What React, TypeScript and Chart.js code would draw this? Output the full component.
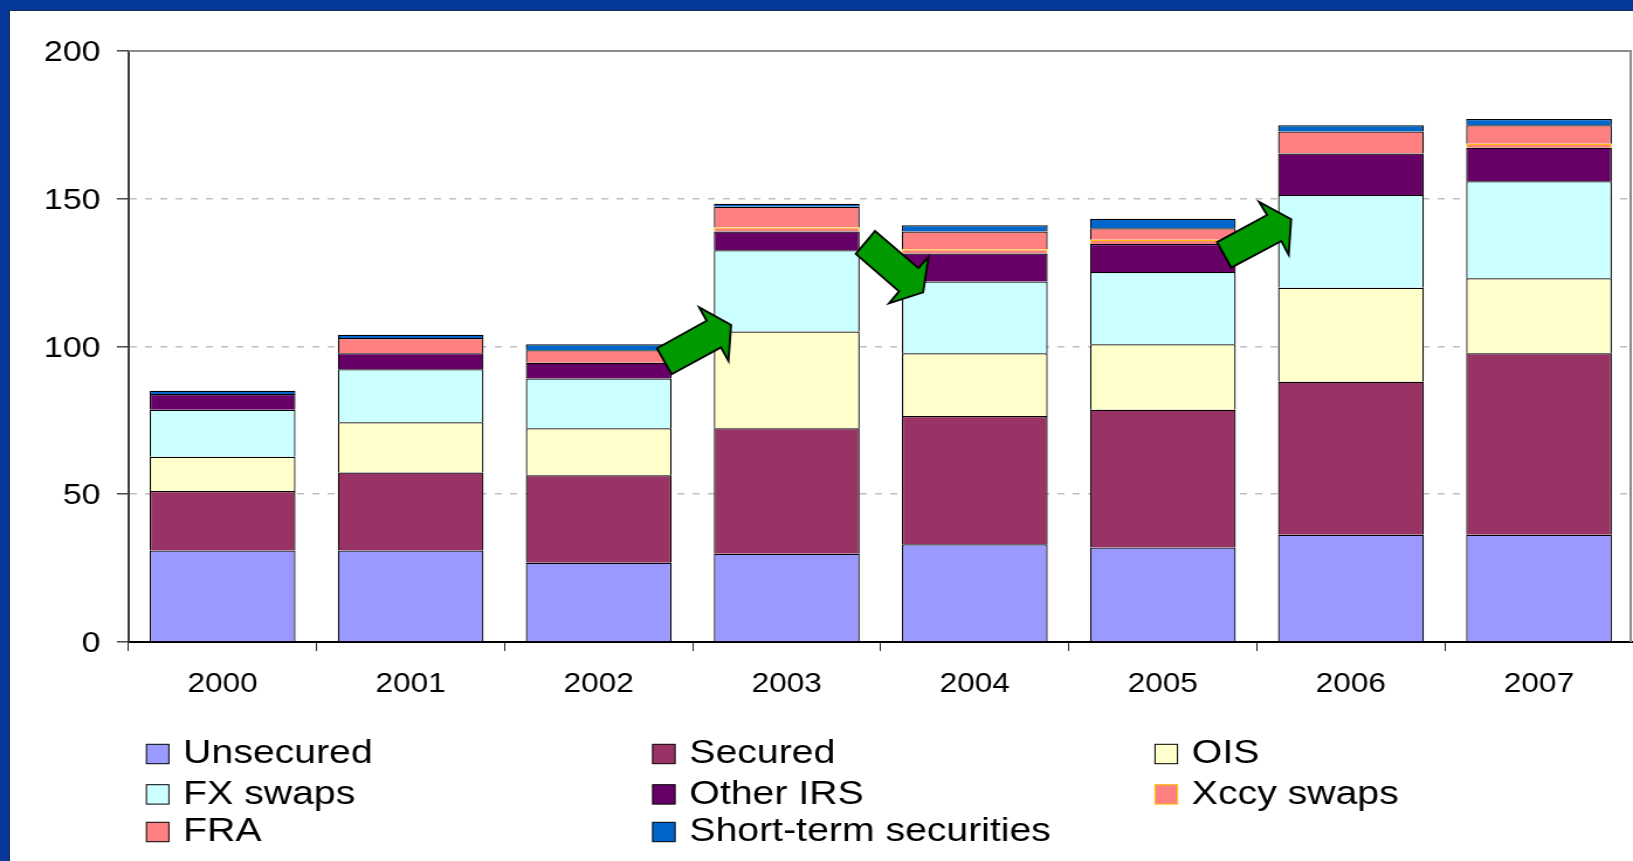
import React, { useEffect, useRef } from "react";
import { Chart, registerables } from "chart.js";

Chart.register(...registerables);

const years = ["2000", "2001", "2002", "2003", "2004", "2005", "2006", "2007"];
const yTicks = [0, 50, 100, 150, 200];

const unsecured = [31, 31, 26.8, 29.9, 33.1, 32, 36.3, 36.3];
const secured = [20.1, 26.4, 29.6, 42.4, 43.4, 46.6, 51.8, 61.4];
const ois = [11.6, 17, 15.9, 32.8, 21.2, 22.2, 31.8, 25.4];
const fxSwaps = [15.9, 17.9, 16.9, 27.5, 24.3, 24.4, 31.4, 32.8];
const otherIrs = [5.3, 5.4, 5.3, 6.3, 9.5, 9.5, 14, 11.4];
const xccySwaps = [0, 0, 0, 1.4, 1.4, 1.4, 0, 1.3];
const fra = [0, 5.2, 4.2, 7, 6, 3.9, 7.5, 6.3];
const shortTerm = [1.1, 1.1, 2.1, 1, 2.1, 3.2, 2.1, 2.1];

const seriesLabels = ["Unsecured", "Secured", "OIS", "FX swaps", "Other IRS", "Xccy swaps", "FRA", "Short-term securities"];
const seriesValues = [unsecured, secured, ois, fxSwaps, otherIrs, xccySwaps, fra, shortTerm];
const seriesFill = ["#9999FF", "#993366", "#FFFFCC", "#CCFFFF", "#660066", "#FF8080", "#FF8080", "#0066CC"];
const seriesBorder = ["#000000", "#000000", "#000000", "#000000", "#000000", "#FFC000", "#000000", "#000000"];

// Block arrows as [category position, value] pairs
const arrowUp2003 = [[2.31, 99.4], [2.388, 90.6], [2.65, 99.7], [2.69, 95.1], [2.704, 107.3], [2.534, 113.3], [2.574, 108.7]];
const arrowDown2004 = [[3.469, 139.1], [3.367, 131.3], [3.597, 118.7], [3.543, 114.6], [3.725, 118.3], [3.754, 130.4], [3.7, 126.5]];
const arrowUp2006 = [[5.288, 135.3], [5.364, 126.7], [5.63, 135.7], [5.669, 131], [5.682, 143.1], [5.511, 149], [5.554, 144.5]];
const arrows = [arrowUp2003, arrowDown2004, arrowUp2006];

const STRETCH = 1633 / 1396;
const FONT = '"Liberation Sans", Arial, sans-serif';

// Legend cell for each series: [column, row]
const legendCells = [[0, 0], [1, 0], [2, 0], [0, 1], [1, 1], [2, 1], [0, 2], [1, 2]];
const legendColX = [146.4, 652.6, 1155];
const legendRowTop = [744.3, 784.7, 822.3];

const frameAndLegend = {
  id: "frameAndLegend",
  beforeDatasetsDraw(chart: any) {
    const { ctx, chartArea: a } = chart;
    ctx.save();
    ctx.strokeStyle = "#8c8c8c";
    ctx.lineWidth = 2;
    ctx.beginPath();
    ctx.moveTo(a.left, a.top);
    ctx.lineTo(a.right - 2, a.top);
    ctx.lineTo(a.right - 2, a.bottom);
    ctx.stroke();
    ctx.restore();
  },
  afterDatasetsDraw(chart: any) {
    const { ctx, scales } = chart;
    ctx.save();
    arrows.forEach((pts) => {
      ctx.beginPath();
      pts.forEach(([c, v], i) => {
        const x = scales.x.getPixelForValue(c);
        const y = scales.y.getPixelForValue(v);
        if (i === 0) ctx.moveTo(x, y);
        else ctx.lineTo(x, y);
      });
      ctx.closePath();
      ctx.fillStyle = "#009900";
      ctx.fill();
      ctx.lineWidth = 1.8;
      ctx.lineJoin = "miter";
      ctx.strokeStyle = "#000000";
      ctx.stroke();
    });
    ctx.textAlign = "left";
    ctx.textBaseline = "alphabetic";
    ctx.font = `33.5px ${FONT}`;
    seriesLabels.forEach((label, i) => {
      const [col, row] = legendCells[i];
      const x = legendColX[col] / STRETCH;
      const y = legendRowTop[row];
      const w = 22.5 / STRETCH;
      ctx.fillStyle = seriesFill[i];
      ctx.fillRect(x, y, w, 19.4);
      ctx.strokeStyle = seriesBorder[i];
      ctx.lineWidth = 1;
      ctx.strokeRect(x, y, w, 19.4);
      ctx.fillStyle = "#000000";
      ctx.fillText(label, x + 36.8 / STRETCH, y + 19);
    });
    ctx.restore();
  },
};

export default function App() {
  const ref = useRef<HTMLCanvasElement | null>(null);
  useEffect(() => {
    if (!ref.current) return;
    const chart = new Chart(ref.current, {
      type: "bar",
      data: {
        labels: years,
        datasets: seriesLabels.map((label, i) => ({
          label,
          data: seriesValues[i],
          backgroundColor: seriesFill[i],
          borderColor: seriesBorder[i],
          borderWidth: 1.25,
          barPercentage: 0.775,
          categoryPercentage: 1,
        })),
      },
      options: {
        animation: false,
        responsive: false,
        devicePixelRatio: 1,
        layout: { padding: { top: 51, left: 0, right: 0, bottom: 0 } },
        plugins: { legend: { display: false }, tooltip: { enabled: false }, title: { display: false } },
        scales: {
          x: {
            stacked: true,
            afterFit: (s: any) => { s.height = 219; },
            border: { color: "#000000", width: 2 },
            grid: { offset: true, drawOnChartArea: false, drawTicks: true, tickLength: 9, tickColor: "#222222", tickWidth: 1 },
            ticks: { color: "#000000", font: { family: FONT, size: 27 }, padding: 17, maxRotation: 0, autoSkip: false },
          },
          y: {
            stacked: true,
            min: 0,
            max: 200,
            afterFit: (s: any) => { s.width = 109.9; },
            afterBuildTicks: (s: any) => { s.ticks = yTicks.map((value) => ({ value })); },
            border: { color: "#3a3a3a", width: 2, dash: [6, 7] },
            grid: { color: "#c0c0c0", lineWidth: 1.6, tickColor: "#3a3a3a", tickLength: 10, tickWidth: 1.4, tickBorderDash: [] },
            ticks: { color: "#000000", font: { family: FONT, size: 29 }, padding: 14, labelOffset: 2 },
          },
        },
      },
      plugins: [frameAndLegend],
    } as any);
    return () => chart.destroy();
  }, []);
  return (
    <div style={{ position: "fixed", left: 0, top: 0, width: 1633, height: 861, background: "#06379B", overflow: "hidden" }}>
      <div style={{ position: "absolute", left: 9, top: 10, width: 1624, height: 851, background: "#FFFFFF", borderTop: "1px solid #1a2a50", borderLeft: "1px solid #1a2a50", boxSizing: "border-box" }} />
      <canvas
        ref={ref}
        width={1396}
        height={861}
        style={{ position: "absolute", left: 0, top: 0, width: 1633, height: 861, display: "block" }}
      />
    </div>
  );
}
